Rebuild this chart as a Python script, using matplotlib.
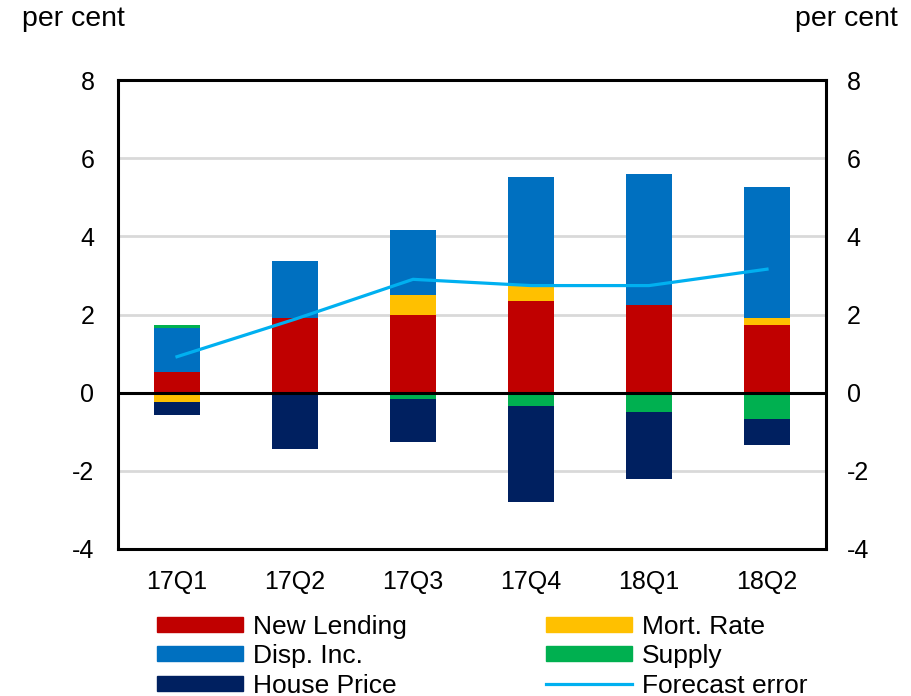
import matplotlib
matplotlib.use("Agg")
import matplotlib.pyplot as plt
import numpy as np
from matplotlib.patches import Patch
from matplotlib.lines import Line2D

plt.rcParams['font.family'] = ['Liberation Sans', 'DejaVu Sans']

categories = ["17Q1", "17Q2", "17Q3", "17Q4", "18Q1", "18Q2"]
new_lending = [0.53, 1.91, 1.98, 2.34, 2.25, 1.73]
mort_rate = [-0.23, 0.0, 0.53, 0.39, 0.0, 0.18]
disp_inc = [1.12, 1.46, 1.64, 2.78, 3.35, 3.35]
supply = [0.09, 0.0, -0.15, -0.33, -0.50, -0.67]
house_price = [-0.35, -1.44, -1.11, -2.48, -1.71, -0.68]
forecast_error = [0.92, 1.88, 2.90, 2.74, 2.74, 3.16]

series = [
    ("New Lending", new_lending, "#C00000"),
    ("Mort. Rate", mort_rate, "#FFC000"),
    ("Disp. Inc.", disp_inc, "#0070C0"),
    ("Supply", supply, "#00B050"),
    ("House Price", house_price, "#002060"),
]
line_color = "#00B0F0"

fig = plt.figure(figsize=(9.12, 6.96), dpi=100)
ax = fig.add_axes([118/912, 1-549/696, (826-118)/912, (549-80)/696])

x = np.arange(len(categories))
pos_base = np.zeros(len(categories))
neg_base = np.zeros(len(categories))
for name, vals, col in series:
    v = np.array(vals, dtype=float)
    bottoms = np.where(v >= 0, pos_base, neg_base)
    ax.bar(x, v, bottom=bottoms, width=0.395, color=col, linewidth=0, zorder=3)
    pos_base = pos_base + np.where(v >= 0, v, 0)
    neg_base = neg_base + np.where(v < 0, v, 0)

ax.plot(x, forecast_error, color=line_color, linewidth=2.3, zorder=4)

ax.set_xlim(-0.5, len(categories) - 0.5)
ax.set_ylim(-4, 8)
ax.set_yticks([-4, -2, 0, 2, 4, 6, 8])
ax.set_yticklabels(["-4", "-2", "0", "2", "4", "6", "8"])
ax.set_xticks(x)
ax.set_xticklabels(categories)
ax.tick_params(axis='both', length=0, labelsize=18)
ax.tick_params(axis='y', pad=17)
ax.tick_params(axis='x', pad=15)
ax.yaxis.grid(True, color="#D9D9D9", linewidth=2, zorder=0)
ax.set_axisbelow(True)
ax.axhline(0, color="black", linewidth=2.2, zorder=5)
for s in ax.spines.values():
    s.set_linewidth(2.2)
    s.set_color("black")

ax2 = ax.twinx()
ax2.set_ylim(-4, 8)
ax2.set_yticks([-4, -2, 0, 2, 4, 6, 8])
ax2.set_yticklabels(["-4", "-2", "0", "2", "4", "6", "8"])
ax2.tick_params(axis='y', length=0, labelsize=18, pad=15)
for s in ax2.spines.values():
    s.set_visible(False)

fig.text(22/912, 1-19/696, "per cent", fontsize=20.5, ha='left', va='center')
fig.text(898/912, 1-19/696, "per cent", fontsize=20.5, ha='right', va='center')

handles = [
    Patch(color="#C00000", label="New Lending"),
    Patch(color="#FFC000", label="Mort. Rate"),
    Patch(color="#0070C0", label="Disp. Inc."),
    Patch(color="#00B050", label="Supply"),
    Patch(color="#002060", label="House Price"),
    Line2D([0], [0], color=line_color, linewidth=2.3, label="Forecast error"),
]
order = [0, 2, 4, 1, 3, 5]
leg = fig.legend([handles[i] for i in order], [handles[i].get_label() for i in order],
                 ncol=2, loc='upper left', bbox_to_anchor=(157/912, 1-615/696),
                 frameon=False, fontsize=19, handlelength=3.25, handleheight=0.5,
                 handletextpad=0.4, columnspacing=5.25, labelspacing=0.2,
                 borderpad=0, borderaxespad=0)

fig.savefig("out.png", dpi=100)
